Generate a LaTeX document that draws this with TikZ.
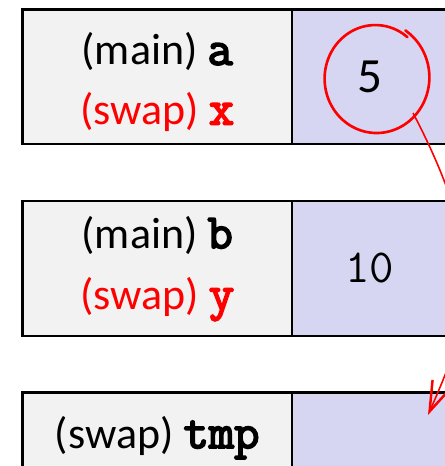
\documentclass[tikz,border=0pt]{standalone}
\usepackage{fontspec}
\setmainfont{Carlito}
\setmonofont{Latin Modern Mono}[AutoFakeBold=3.5]
\usetikzlibrary{arrows.meta,positioning}
\definecolor{namecolor}{RGB}{242,242,242}
\definecolor{valuecolor}{RGB}{214,214,242}
\definecolor{swapcolor}{RGB}{255,0,0}
\newcommand{\vname}[1]{{\ttfamily\bfseries\fontsize{28}{34}\selectfont #1}}
\tikzset{
cellbase/.style={
  draw=black,
  line width=1.2pt,
  outer sep=0pt,
  inner sep=0pt,
  align=center,
  font=\fontsize{25}{35}\selectfont
},
namecell/.style={
  cellbase,
  fill=namecolor,
  minimum width=5.39cm,
  minimum height=2.69cm
},
valuecell/.style={
  cellbase,
  fill=valuecolor,
  minimum width=3.12cm,
  minimum height=2.69cm
},
redpen/.style={
  draw=swapcolor,
  line width=1.5pt,
  line cap=round
},
redarrow/.style={
  draw=swapcolor,
  line width=0.9pt,
  -{Straight Barb[length=6mm,width=4mm,line width=1.4pt]}
}
}

\begin{document}
\begin{tikzpicture}[x=0.02cm, y=-0.02cm]
  \useasboundingbox (0,0) rectangle (445,466);
  \clip (0,0) rectangle (445,466);

  % memory cells
  \node[namecell] (nameA) at (157.25,76.75) {\raisebox{-3.4pt}[\height][\depth]{\fontsize{25}{34}\selectfont\begin{tabular}{@{}c@{}}(main) \vname{a}\\\textcolor{swapcolor}{(swap) \vname{x}}\end{tabular}}};
  \node[valuecell, right=0pt of nameA, font=\fontsize{28}{34}\selectfont] (valA) {5};

  \node[namecell] (nameB) at (157.25,268.5) {(main) \vname{b}\\\textcolor{swapcolor}{(swap) \vname{y}}};
  \node[valuecell, right=0pt of nameB] (valB) {\fontsize{27}{34}\ttfamily 10};

  \node[namecell, minimum height=1.8cm] (nameTmp) at (157.25,437.5) {(swap) \vname{tmp}};
  \node[valuecell, minimum height=1.8cm, right=0pt of nameTmp] (valTmp) {};

  % hand-drawn circle and arrow
  \draw[redpen] plot[smooth, samples=60, domain=51:417]
    ({376 + (50 + 4*(\x-51)/366)*cos(\x)}, {78 - 1.05*(50 + 4*(\x-51)/366)*sin(\x)});
  \coordinate (ringout) at (413,113);
  \coordinate (tmpin) at (428,415);
  \draw[redarrow] (ringout) .. controls (490,260) and (470,320) .. (tmpin);
\end{tikzpicture}
\end{document}
